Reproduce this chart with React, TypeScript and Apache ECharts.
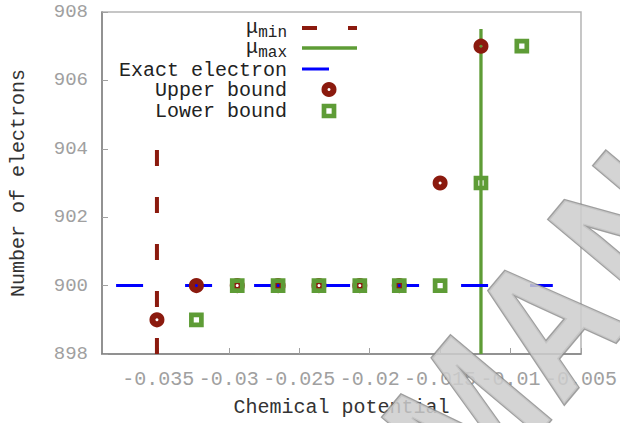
import React, { useEffect, useRef } from "react";
import * as echarts from "echarts";

// ---- data ----
const xTickValues = [-0.035, -0.03, -0.025, -0.02, -0.015, -0.01, -0.005];
const upperX = [-0.0351, -0.0323, -0.0294, -0.0265, -0.0236, -0.0207, -0.0179, -0.015, -0.0121];
const upperY = [899, 900, 900, 900, 900, 900, 900, 903, 907];
const lowerX = [-0.0323, -0.0294, -0.0265, -0.0236, -0.0207, -0.0179, -0.015, -0.0121, -0.0092];
const lowerY = [899, 900, 900, 900, 900, 900, 900, 903, 907];
const muMin = -0.0351;
const muMinSpan = [898, 904];
const muMax = -0.0121;
const muMaxSpan = [898, 907.5];
const exactElectron = 900;
const exactSpan = [-0.038, -0.007];
const watermarkLetters = ["M", "A", "N", "U", "A", "L"];

const RED = "#8b1a0e";
const GREEN = "#5e9c36";
const BLUE = "#0000ff";
const MONO = '"Liberation Mono", "Courier New", monospace';

export default function App() {
  const ref = useRef<HTMLDivElement>(null);
  useEffect(() => {
    if (!ref.current) return;
    const chart = echarts.init(ref.current, null, { renderer: "svg" });

    const ang = (50 * Math.PI) / 180;
    const pitch = 125;
    const m0 = [466, 418];
    const watermark = watermarkLetters.map((ch, i) => ({
      type: "text",
      x: m0[0] + i * pitch * Math.cos(ang),
      y: m0[1] - i * pitch * Math.sin(ang),
      rotation: ang,
      scaleX: 0.8,
      z: 100,
      silent: true,
      style: {
        text: ch,
        font: 'bold 190px "Liberation Sans", Arial, sans-serif',
        fill: "rgba(205,205,205,0.85)",
        stroke: "rgba(135,135,135,0.8)",
        lineWidth: 3,
        align: "center",
        verticalAlign: "middle",
      },
    }));

    const legendText = (text: string, x: number, y: number, size = 20) => ({
      type: "text",
      x,
      y,
      z: 10,
      style: {
        text,
        font: `${size}px ${MONO}`,
        fill: "#222",
        align: "right",
        verticalAlign: "middle",
      },
    });

    chart.setOption({
      animation: false,
      backgroundColor: "#fff",
      grid: {
        left: 102,
        top: 12,
        width: 483,
        height: 342,
        show: true,
        borderColor: "#b4b4b4",
        borderWidth: 1.5,
      },
      xAxis: {
        type: "value",
        min: -0.039,
        max: -0.005,
        splitLine: { show: false },
        axisLine: { lineStyle: { color: "#808080", width: 1.5 } },
        axisTick: {
          inside: true,
          length: 6,
          customValues: xTickValues,
          lineStyle: { color: "#a0a0a0" },
        },
        axisLabel: {
          customValues: xTickValues,
          color: "#a0a0a0",
          fontFamily: MONO,
          fontSize: 20,
          margin: 15,
        },
        name: "Chemical potential",
        nameLocation: "middle",
        nameGap: 43,
        nameTextStyle: { fontFamily: MONO, fontSize: 20, color: "#333" },
      },
      yAxis: {
        type: "value",
        min: 898,
        max: 908,
        interval: 2,
        splitLine: { show: false },
        axisLine: { show: true, lineStyle: { color: "#808080", width: 1.5 } },
        axisTick: { show: true, inside: true, length: 6, lineStyle: { color: "#a0a0a0" } },
        axisLabel: { color: "#a0a0a0", fontFamily: MONO, fontSize: 19, margin: 14 },
        name: "Number of electrons",
        nameLocation: "middle",
        nameGap: 74,
        nameRotate: 90,
        nameTextStyle: { fontFamily: MONO, fontSize: 20, color: "#333" },
      },
      series: [
        {
          name: "μmin",
          type: "line",
          data: muMinSpan.map((y) => [muMin, y]),
          symbol: "none",
          lineStyle: { color: RED, width: 4, type: [16, 31] },
          z: 2,
        },
        {
          name: "μmax",
          type: "line",
          data: muMaxSpan.map((y) => [muMax, y]),
          symbol: "none",
          lineStyle: { color: GREEN, width: 3.3 },
          z: 2,
        },
        {
          name: "Exact electron",
          type: "line",
          data: exactSpan.map((x) => [x, exactElectron]),
          symbol: "none",
          lineStyle: { color: BLUE, width: 3, type: [27, 42] },
          z: 2,
        },
        {
          name: "Upper bound",
          type: "scatter",
          data: upperX.map((x, i) => [x, upperY[i]]),
          symbol: "circle",
          symbolSize: 9,
          itemStyle: { color: "rgba(255,255,255,0)", borderColor: RED, borderWidth: 6, opacity: 1 },
          z: 3,
        },
        {
          name: "Lower bound",
          type: "scatter",
          data: lowerX.map((x, i) => [x, lowerY[i]]),
          symbol: "rect",
          symbolSize: 10,
          itemStyle: { color: "rgba(255,255,255,0)", borderColor: GREEN, borderWidth: 4.7, opacity: 1 },
          z: 4,
        },
      ],
      graphic: [
        legendText("μ", 258, 27),
        legendText("min", 287, 33, 16),
        legendText("μ", 258, 47),
        legendText("max", 287, 53, 16),
        legendText("Exact electron", 287, 70),
        legendText("Upper bound", 287, 90),
        legendText("Lower bound", 287, 111),
        {
          type: "line",
          z: 10,
          shape: { x1: 302, y1: 28, x2: 357, y2: 28 },
          style: { stroke: RED, lineWidth: 4, lineDash: [15, 31] },
        },
        {
          type: "line",
          z: 10,
          shape: { x1: 302, y1: 48, x2: 357, y2: 48 },
          style: { stroke: GREEN, lineWidth: 3.3 },
        },
        {
          type: "line",
          z: 10,
          shape: { x1: 302, y1: 69, x2: 329, y2: 69 },
          style: { stroke: BLUE, lineWidth: 3 },
        },
        {
          type: "circle",
          z: 10,
          shape: { cx: 329, cy: 89.5, r: 4.5 },
          style: { fill: "#fff", stroke: RED, lineWidth: 6 },
        },
        {
          type: "rect",
          z: 10,
          shape: { x: 324, y: 106, width: 10, height: 10 },
          style: { fill: "#fff", stroke: GREEN, lineWidth: 4.7 },
        },
        ...watermark,
      ],
    });
    return () => chart.dispose();
  }, []);
  return (
    <div
      ref={ref}
      style={{ position: "fixed", left: 0, top: 0, width: 620, height: 423 }}
    />
  );
}
